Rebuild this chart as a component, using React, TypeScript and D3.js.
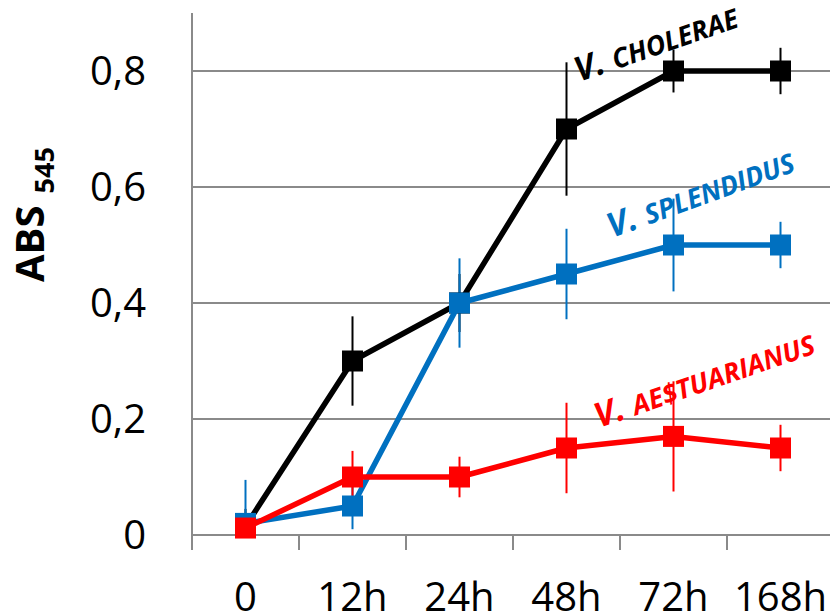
import React from "react";
import * as d3 from "d3";

const categories = ["0", "12h", "24h", "48h", "72h", "168h"];
const yTicks = [0, 0.2, 0.4, 0.6, 0.8];
const yTickLabels = ["0", "0,2", "0,4", "0,6", "0,8"];

const cholerae = [0.015, 0.3, 0.4, 0.7, 0.8, 0.8];
const choleraeErr = [0.03, 0.077, 0.05, 0.115, 0.037, 0.04];
const splendidus = [0.02, 0.05, 0.4, 0.45, 0.5, 0.5];
const splendidusErr = [0.075, 0.04, 0.077, 0.078, 0.08, 0.04];
const aestuarianus = [0.012, 0.1, 0.1, 0.15, 0.17, 0.15];
const aestuarianusErr = [0.01, 0.045, 0.035, 0.078, 0.095, 0.04];

const seriesList = [
  { name: "CHOLERAE", values: cholerae, errs: choleraeErr, color: "#000000", label: { x: 579, y: 82, angle: -19 } },
  { name: "SPLENDIDUS", values: splendidus, errs: splendidusErr, color: "#0070C0", label: { x: 612, y: 238, angle: -20 } },
  { name: "AE$TUARIANUS", values: aestuarianus, errs: aestuarianusErr, color: "#FF0000", label: { x: 599, y: 428, angle: -19 } },
];

const W = 830;
const H = 616;
const FONT = "'Open Sans', 'DejaVu Sans', sans-serif";

export default function App() {
  const x = d3.scaleBand<string>().domain(categories).range([192, 834]).padding(0);
  const y = d3.scaleLinear().domain([0, 0.9]).range([535, 13]);
  const cx = (i: number) => (x(categories[i]) as number) + x.bandwidth() / 2;
  const line = d3
    .line<number>()
    .x((_, i) => cx(i))
    .y((v) => y(v));
  const gridColor = "#8a8a8a";
  const boundaries = d3.range(categories.length + 1).map((k) => 192 + k * x.bandwidth());

  return (
    <svg width={W} height={H} style={{ position: "absolute", left: 0, top: 0, background: "#fff" }}>
      {/* gridlines */}
      {yTicks.map((t) => (
        <line key={"g" + t} x1={192} x2={W} y1={y(t)} y2={y(t)} stroke={gridColor} strokeWidth={2} />
      ))}
      {/* y axis line */}
      <line x1={192} x2={192} y1={y(0.9)} y2={y(0)} stroke={gridColor} strokeWidth={2} />
      {/* x tick marks */}
      {boundaries.map((bx, k) => (
        <line key={"t" + k} x1={bx} x2={bx} y1={y(0)} y2={y(0) + 15} stroke={gridColor} strokeWidth={2} />
      ))}
      {/* y tick labels */}
      {yTicks.map((t, i) => (
        <text key={"yl" + t} x={146} y={y(t)} dy="0.36em" textAnchor="end" fontFamily={FONT} fontSize={40} fill="#000">
          {yTickLabels[i]}
        </text>
      ))}
      {/* x tick labels */}
      {categories.map((c, i) => (
        <text key={"xl" + c} x={cx(i)} y={611} textAnchor="middle" fontFamily={FONT} fontSize={40} fill="#000">
          {c}
        </text>
      ))}
      {/* y axis title */}
      <text transform="translate(44,282) rotate(-90)" fontFamily={FONT} fontWeight="bold" fontSize={40} fill="#000">
        ABS
        <tspan fontSize={27} dx={12} dy={10}>
          545
        </tspan>
      </text>
      {/* error bars */}
      {seriesList.map((s) => (
        <g key={"e" + s.name}>
          {s.values.map((v, i) => (
            <line
              key={i}
              x1={cx(i)}
              x2={cx(i)}
              y1={y(v + s.errs[i])}
              y2={y(Math.max(0, v - s.errs[i]))}
              stroke={s.color}
              strokeWidth={2}
            />
          ))}
        </g>
      ))}
      {/* lines and markers */}
      {seriesList.map((s) => (
        <g key={"s" + s.name}>
          <path d={line(s.values) || ""} fill="none" stroke={s.color} strokeWidth={5.5} strokeLinejoin="round" />
          {s.values.map((v, i) => (
            <rect key={i} x={cx(i) - 10.5} y={y(v) - 10.5} width={21} height={21} fill={s.color} />
          ))}
        </g>
      ))}
      {/* series labels */}
      {seriesList.map((s) => (
        <text
          key={"lab" + s.name}
          transform={`translate(${s.label.x},${s.label.y}) rotate(${s.label.angle})`}
          fontFamily={FONT}
          fontWeight="bold"
          fontStyle="italic"
          fill={s.color}
        >
          <tspan fontSize={34}>V.</tspan>
          <tspan fontSize={27} dx={9}>
            {s.name}
          </tspan>
        </text>
      ))}
    </svg>
  );
}
